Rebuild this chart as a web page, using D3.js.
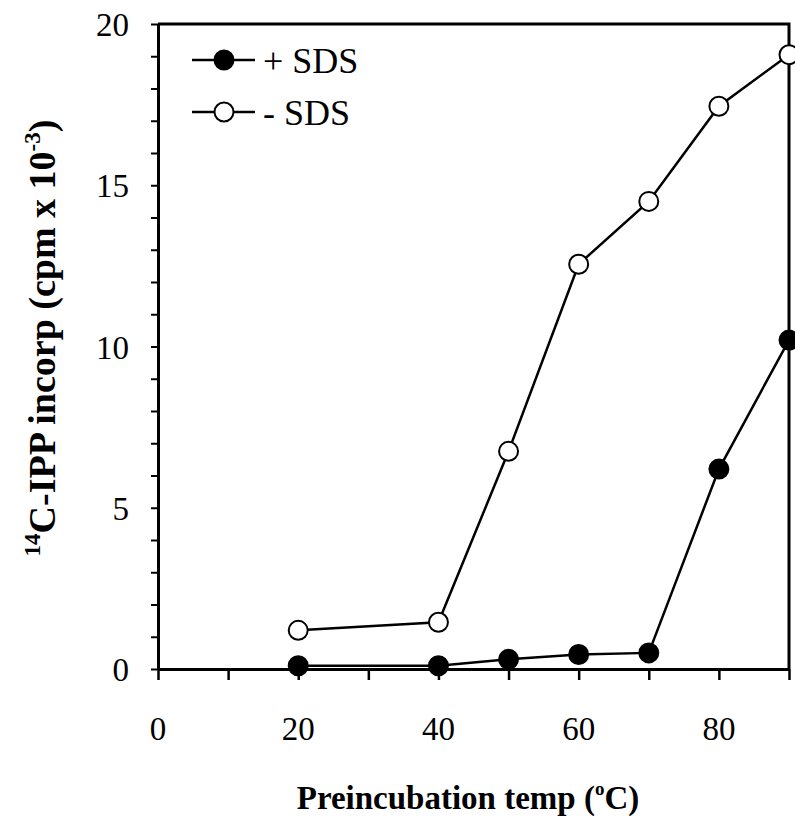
<!DOCTYPE html>
<html>
<head>
<meta charset="utf-8">
<script src="https://cdn.jsdelivr.net/npm/d3@7"></script>
<style>
  body { margin: 0; background: #fff; }
  svg { display: block; }
  text { font-family: 'Liberation Serif', 'DejaVu Serif', serif; fill: #000; }
  .tick-label { font-size: 33px; }
  .axis-title { font-weight: bold; }
  .legend-text { font-size: 36px; }
</style>
</head>
<body>
<svg id="chart" width="795" height="826"></svg>
<script>
//////////////////////////////////////////////////////////////////////////////////////////
// Data
//////////////////////////////////////////////////////////////////////////////////////////
var temps = [20, 40, 50, 60, 70, 80, 90]
var plus_sds = [0.1, 0.1, 0.3, 0.45, 0.5, 6.2, 10.2]
var minus_sds = [1.2, 1.45, 6.75, 12.55, 14.5, 17.45, 19.05]
var x_tick_labels = [0, 20, 40, 60, 80]
var y_tick_labels = [0, 5, 10, 15, 20]
var series_names = ['+ SDS', '- SDS']

//////////////////////////////////////////////////////////////////////////////////////////
// Layout
//////////////////////////////////////////////////////////////////////////////////////////
var svg = d3.select('#chart')
var plot = { 'left': 158, 'right': 789, 'top': 24, 'bottom': 669 }

var x = d3.scaleLinear().domain([0, 90]).range([plot['left'], plot['right']])
var y = d3.scaleLinear().domain([0, 20]).range([plot['bottom'], plot['top']])

//////////////////////////////////////////////////////////////////////////////////////////
// Axes
//////////////////////////////////////////////////////////////////////////////////////////
var x_axis = d3.axisBottom(x)
  .tickValues(d3.range(0, 91, 10))
  .tickSize(11)
  .tickSizeOuter(0)
  .tickFormat('')

svg.append('g')
  .attr('transform', 'translate(0,' + plot['bottom'] + ')')
  .call(x_axis)
  .call(function(g) {
    g.select('.domain').attr('stroke-width', 3)
    g.selectAll('.tick line').attr('stroke-width', 2.5)
  })

var y_axis = d3.axisLeft(y)
  .tickValues(d3.range(0, 21, 1))
  .tickSize(7)
  .tickSizeOuter(0)
  .tickFormat('')

svg.append('g')
  .attr('transform', 'translate(' + plot['left'] + ',0)')
  .call(y_axis)
  .call(function(g) {
    g.select('.domain').attr('stroke-width', 3)
    g.selectAll('.tick line').attr('stroke-width', 2)
  })

// frame top and right
svg.append('path')
  .attr('d', 'M' + plot['left'] + ',' + plot['top'] + 'H' + plot['right'] + 'V' + plot['bottom'])
  .attr('fill', 'none')
  .attr('stroke', '#000')
  .attr('stroke-width', 3)

// tick labels
svg.selectAll('.x-label')
  .data(x_tick_labels)
  .enter()
  .append('text')
  .attr('class', 'tick-label')
  .attr('x', function(d) { return x(d) })
  .attr('y', 740)
  .attr('text-anchor', 'middle')
  .text(function(d) { return d })

svg.selectAll('.y-label')
  .data(y_tick_labels)
  .enter()
  .append('text')
  .attr('class', 'tick-label')
  .attr('x', 129)
  .attr('y', function(d) { return y(d) + 12 })
  .attr('text-anchor', 'end')
  .text(function(d) { return d })

// axis titles
var x_title = svg.append('text')
  .attr('class', 'axis-title')
  .attr('font-size', 33)
  .attr('x', 468)
  .attr('y', 809)
  .attr('text-anchor', 'middle')
x_title.append('tspan').text('Preincubation temp (')
x_title.append('tspan').attr('font-size', 19).attr('dy', -14).text('o')
x_title.append('tspan').attr('dy', 14).text('C)')

var y_title = svg.append('text')
  .attr('class', 'axis-title')
  .attr('font-size', 38)
  .attr('transform', 'translate(55,338) rotate(-90)')
  .attr('text-anchor', 'middle')
y_title.append('tspan').attr('font-size', 23).attr('dy', -15).text('14')
y_title.append('tspan').attr('dy', 15).text('C-IPP incorp (cpm x 10')
y_title.append('tspan').attr('font-size', 23).attr('dy', -15).text('-3')
y_title.append('tspan').attr('dy', 15).text(')')

//////////////////////////////////////////////////////////////////////////////////////////
// Series
//////////////////////////////////////////////////////////////////////////////////////////
var line = d3.line()
  .x(function(d) { return x(d[0]) })
  .y(function(d) { return y(d[1]) })

function draw_series(values, fill) {
  var points = d3.zip(temps, values)
  svg.append('path')
    .datum(points)
    .attr('d', line)
    .attr('fill', 'none')
    .attr('stroke', '#000')
    .attr('stroke-width', 2.5)

  svg.append('g')
    .selectAll('circle')
    .data(points)
    .enter()
    .append('circle')
    .attr('cx', function(d) { return x(d[0]) })
    .attr('cy', function(d) { return y(d[1]) })
    .attr('r', 9.5)
    .attr('fill', fill)
    .attr('stroke', '#000')
    .attr('stroke-width', 2)
}

draw_series(minus_sds, '#fff')
draw_series(plus_sds, '#000')

//////////////////////////////////////////////////////////////////////////////////////////
// Legend
//////////////////////////////////////////////////////////////////////////////////////////
var legend = svg.append('g')
  .selectAll('g')
  .data(series_names)
  .enter()
  .append('g')
  .attr('transform', function(d, i) { return 'translate(0,' + (60 + i * 52) + ')' })

legend.append('line')
  .attr('x1', 192).attr('x2', 255)
  .attr('stroke', '#000').attr('stroke-width', 2.5)

legend.append('circle')
  .attr('cx', 224)
  .attr('r', 9.5)
  .attr('fill', function(d, i) { return i == 0 ? '#000' : '#fff' })
  .attr('stroke', '#000')
  .attr('stroke-width', 2)

legend.append('text')
  .attr('class', 'legend-text')
  .attr('x', 263)
  .attr('y', 13)
  .text(function(d) { return d })
</script>
</body>
</html>
